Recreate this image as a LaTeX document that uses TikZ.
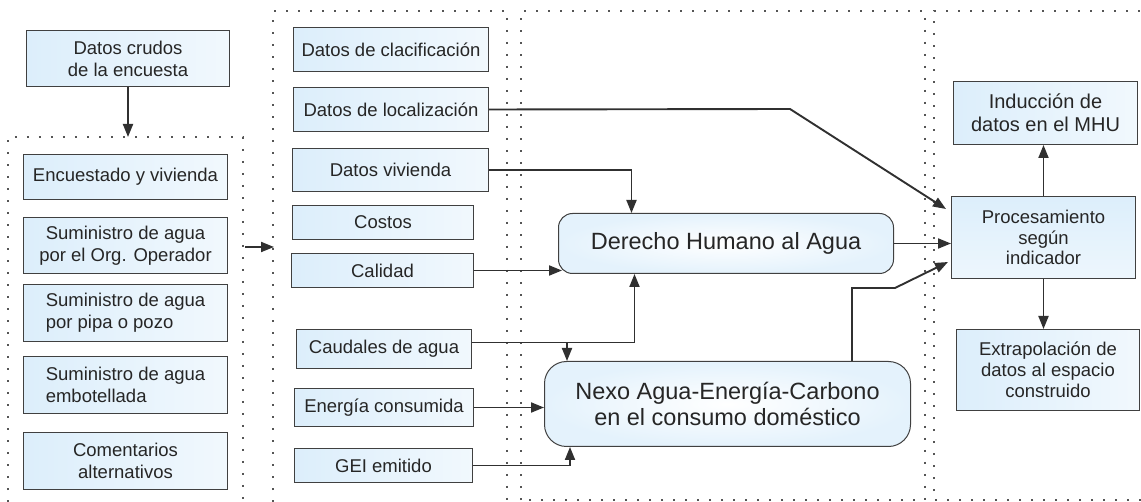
\documentclass[tikz,border=0pt]{standalone}
\usepackage{fontspec}
\setmainfont{Liberation Sans}
\usetikzlibrary{arrows.meta,calc}
\definecolor{txt}{HTML}{262626}
\definecolor{edgec}{HTML}{404040}
\definecolor{lb}{HTML}{DCEEFB}
\definecolor{lbr}{HTML}{E4F2FC}
\definecolor{dotc}{HTML}{555555}
\definecolor{arrc}{HTML}{303030}
\tikzset{
  box/.style={draw=edgec, line width=1pt, inner sep=0pt, align=center, text=txt,
    font=\fontsize{18.5}{22}\selectfont, left color=lb, right color=white!60!lb, anchor=north west},
  rbox/.style={draw=edgec, line width=1pt, inner sep=0pt, align=center, text=txt,
    font=\fontsize{23.5}{26}\selectfont, inner color=white, outer color=lbr, anchor=north west},
  arr/.style={draw=arrc, line width=1.9pt, -{Triangle[length=13pt,width=10pt]}},
  frame/.style={draw=dotc, line width=1.7pt, dash pattern=on 1.7pt off 10.3pt}
}
\begin{document}
\begin{tikzpicture}[x=1pt,y=-1pt]
\useasboundingbox (0,0) rectangle (1141,502);
% dotted frames
\draw[frame] (8,502) -- (8,137) -- (243,137) -- (243,502);
\draw[frame] (273,502) -- (273,11) -- (507,11) -- (507,502);
\draw[frame] (521,500) -- (521,11) -- (925,11) -- (925,500) -- cycle;
\draw[frame] (1141,500) -- (934,500) -- (934,11) -- (1141,11);

% left column
\node[box, minimum width=203pt, minimum height=56pt] (crudos) at (26,30) {Datos crudos\\de la encuesta};
\node[box, minimum width=204pt, minimum height=45pt] (enc) at (23,154) {Encuestado y vivienda};
\node[box, minimum width=204pt, minimum height=56pt] (org) at (23,217) {Suministro de agua\\por el Org. Operador};
\node[box, minimum width=204pt, minimum height=57pt, align=left] (pipa) at (23,284) {Suministro de agua\\por pipa o pozo};
\node[box, minimum width=204pt, minimum height=57pt, align=left] (embo) at (23,356) {Suministro de agua\\embotellada};
\node[box, minimum width=204pt, minimum height=57pt] (coment) at (23,432) {Comentarios\\alternativos};

% second column
\node[box, minimum width=195pt, minimum height=44pt] (clas) at (293,27) {Datos de clacificación};
\node[box, minimum width=195pt, minimum height=44pt] (loc) at (293,87) {Datos de localización};
\node[box, minimum width=196pt, minimum height=43pt] (viv) at (292,148) {Datos vivienda};
\node[box, minimum width=181pt, minimum height=34pt] (costos) at (292,205) {Costos};
\node[box, minimum width=182pt, minimum height=34pt] (calidad) at (291,253) {Calidad};
\node[box, minimum width=175pt, minimum height=39pt] (caudales) at (296,329) {Caudales de agua};
\node[box, minimum width=179pt, minimum height=38pt] (energia) at (294,388) {Energía consumida};
\node[box, minimum width=178pt, minimum height=34pt] (gei) at (294,448) {GEI emitido};

% middle
\node[rbox, rounded corners=14pt, minimum width=335pt, minimum height=60pt] (dha) at (558,213) {Derecho Humano al Agua};
\node[rbox, rounded corners=22pt, minimum width=366pt, minimum height=85pt] (nexo) at (544,361) {Nexo Agua-Energía-Carbono\\en el consumo doméstico};

% right column
\node[box, minimum width=184pt, minimum height=63pt, font=\fontsize{20}{23}\selectfont] (induc) at (953,81) {Inducción de\\datos en el MHU};
\node[box, minimum width=184pt, minimum height=82pt, font=\fontsize{18.5}{20.5}\selectfont, top color=lb, bottom color=white!50!lb] (proc) at (951,196) {Procesamiento\\según\\indicador};
\node[box, minimum width=183pt, minimum height=81pt, font=\fontsize{18.5}{21}\selectfont] (extra) at (956,329) {Extrapolación de\\datos al espacio\\construido};

% coordinates
\coordinate (f1top) at (126,137);
\coordinate (f1r) at (245,247);
\coordinate (f2l) at (274,247);
\coordinate (locbend) at (790,109);
\coordinate (ptipa) at ($(proc.north west)+(-5,13)$);
\coordinate (vivin) at ($(dha.north)+(-94.5,0)$);
\coordinate (dhaleft) at ($(dha.south west)+(4,-3)$);
\coordinate (cq) at ($(caudales.east)+(0,-6.5)$);
\coordinate (dhabot) at ($(dha.south)+(-91.5,0)$);
\coordinate (nexotop) at ($(nexo.north west)+(23,0)$);
\coordinate (nexobot) at ($(nexo.south west)+(26,0)$);
\coordinate (nt) at ($(nexo.north east)+(-59,0)$);
\coordinate (nb2) at (895,288);
\coordinate (ptipc) at ($(proc.south west)+(-3,-17)$);

% connectors
\draw[arr] (crudos.south) -- (crudos.south |- f1top);
\draw[arr] (f1r) -- (f2l);
\draw[arr] (loc.east) -- (locbend) -- (ptipa);
\draw[arr] (viv.east) -| (vivin);
\draw[arr] (calidad.east) -- (calidad.east -| dhaleft);
\draw[arr] (cq) -| (dhabot);
\draw[arr] (cq -| nexotop) -- (nexotop);
\draw[arr] (energia.east) -- (nexo.west |- energia.east);
\draw[arr] (gei.east) -| (nexobot);
\draw[arr] (nt) -- (nt |- nb2) -- (nb2) -- (ptipc);
\draw[arr] (dha.east) -- (proc.west |- dha.east);
\draw[arr] (proc.north) -- (proc.north |- induc.south);
\draw[arr] (proc.south) -- (proc.south |- extra.north);
\end{tikzpicture}
\end{document}
